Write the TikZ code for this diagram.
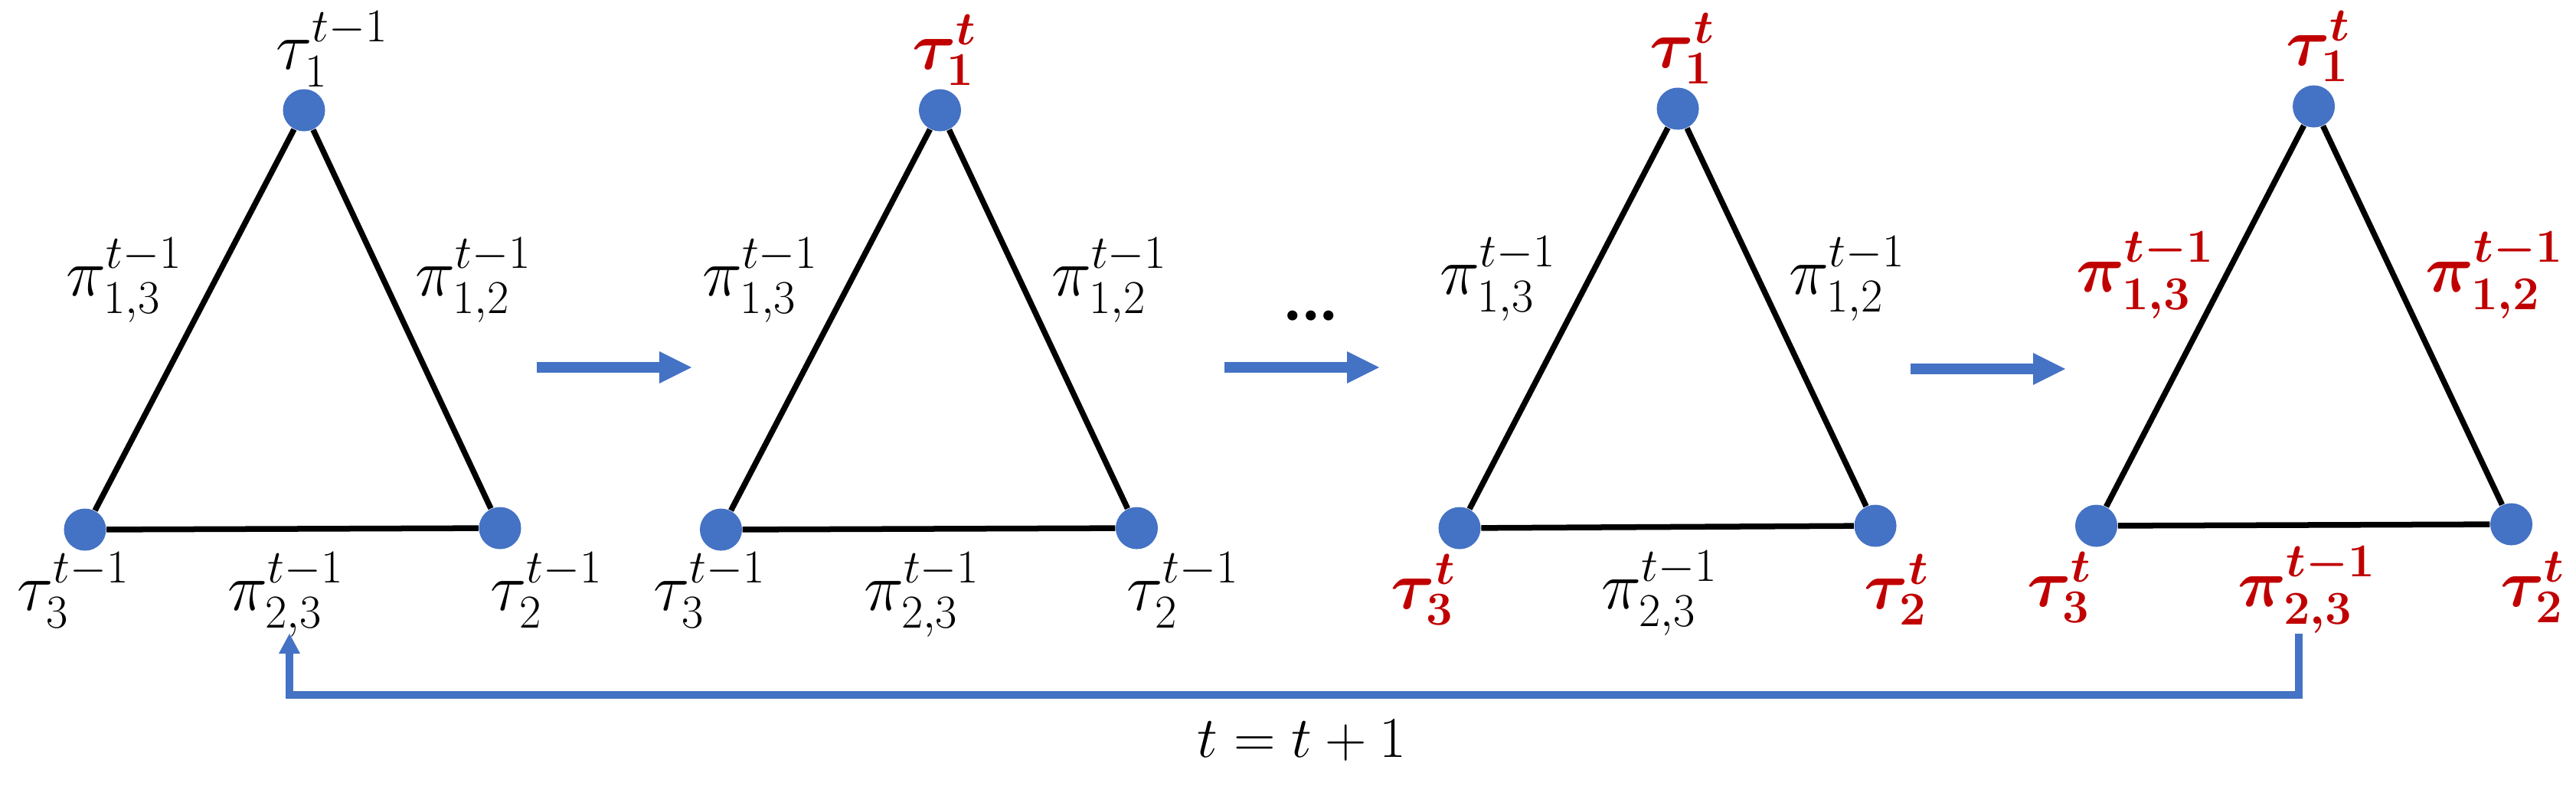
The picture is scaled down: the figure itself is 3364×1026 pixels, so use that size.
\RequirePackage{fix-cm}
\documentclass[tikz,border=0pt]{standalone}
\usepackage{amsmath}
\usepackage{bm}
\usepackage{fontspec}
\newfontfamily\dotfont{Carlito}
\usetikzlibrary{arrows.meta}
\definecolor{nodeblue}{HTML}{4472C4}
\definecolor{newred}{HTML}{C00000}
\begin{document}
\begin{tikzpicture}[x=0.01cm,y=-0.01cm,
  vert/.style={circle,fill=nodeblue,minimum size=0.55cm,inner sep=0pt},
  edge/.style={line width=0.075cm,draw=black},
  lbl/.style={font=\fontsize{25}{30}\selectfont,inner sep=0pt,anchor=base west},
  newlbl/.style={lbl,text=newred},
  flow/.style={line width=0.14cm,draw=nodeblue,-{Triangle[width=0.42cm,length=0.42cm,line width=0pt]}},
  fb/.style={line width=0.095cm,draw=nodeblue,-{Triangle[width=0.28cm,length=0.26cm,line width=0pt]}}]
\useasboundingbox (0,0) rectangle (3364,1026);

% ---------- triangle 1 ----------
\begin{scope}
  \node[vert] (a1) at (397,144) {};
  \node[vert] (a2) at (653,690) {};
  \node[vert] (a3) at (111,692) {};
  \draw[edge] (a1) -- (a2);
  \draw[edge] (a2) -- (a3);
  \draw[edge] (a3) -- (a1);
  \node[lbl] (a1l) at (360,90) {$\tau_1^{t-1}$};
  \node[lbl] (a13) at (86,386) {$\pi_{1,3}^{t-1}$};
  \node[lbl] (a12) at (542,386) {$\pi_{1,2}^{t-1}$};
  \node[lbl] (a3l) at (22,797) {$\tau_3^{t-1}$};
  \node[lbl] (a23) at (297,797) {$\pi_{2,3}^{t-1}$};
  \node[lbl] (a2l) at (640,797) {$\tau_2^{t-1}$};
\end{scope}

% ---------- triangle 2 ----------
\begin{scope}[xshift=8.30cm]
  \node[vert] (b1) at (397,144) {};
  \node[vert] (b2) at (654,690) {};
  \node[vert] (b3) at (111,692) {};
  \draw[edge] (b1) -- (b2);
  \draw[edge] (b2) -- (b3);
  \draw[edge] (b3) -- (b1);
  \node[newlbl] (b1l) at (360,90) {$\bm{\tau_1^{t}}$};
  \node[lbl] (b13) at (86,386) {$\pi_{1,3}^{t-1}$};
  \node[lbl] (b12) at (542,386) {$\pi_{1,2}^{t-1}$};
  \node[lbl] (b3l) at (22,797) {$\tau_3^{t-1}$};
  \node[lbl] (b23) at (297,797) {$\pi_{2,3}^{t-1}$};
  \node[lbl] (b2l) at (640,797) {$\tau_2^{t-1}$};
\end{scope}

% ---------- triangle 3 ----------
\begin{scope}[xshift=17.93cm,yshift=0.02cm]
  \node[vert] (c1) at (397,144) {};
  \node[vert] (c2) at (655,689) {};
  \node[vert] (c3) at (112,692) {};
  \draw[edge] (c1) -- (c2);
  \draw[edge] (c2) -- (c3);
  \draw[edge] (c3) -- (c1);
  \node[newlbl] (c1l) at (360,90) {$\bm{\tau_1^{t}}$};
  \node[lbl] (c13) at (86,386) {$\pi_{1,3}^{t-1}$};
  \node[lbl] (c12) at (542,386) {$\pi_{1,2}^{t-1}$};
  \node[newlbl] (c3l) at (22,797) {$\bm{\tau_3^{t}}$};
  \node[lbl] (c23) at (297,797) {$\pi_{2,3}^{t-1}$};
  \node[newlbl] (c2l) at (640,797) {$\bm{\tau_2^{t}}$};
\end{scope}

% ---------- triangle 4 ----------
\begin{scope}[xshift=26.23cm,yshift=0.05cm]
  \node[vert] (d1) at (397,144) {};
  \node[vert] (d2) at (655,690) {};
  \node[vert] (d3) at (113,692) {};
  \draw[edge] (d1) -- (d2);
  \draw[edge] (d2) -- (d3);
  \draw[edge] (d3) -- (d1);
  \node[newlbl] (d1l) at (360,90) {$\bm{\tau_1^{t}}$};
  \node[newlbl] (d13) at (86,386) {$\bm{\pi_{1,3}^{t-1}}$};
  \node[newlbl] (d12) at (542,386) {$\bm{\pi_{1,2}^{t-1}}$};
  \node[newlbl] (d3l) at (22,797) {$\bm{\tau_3^{t}}$};
  \node[newlbl] (d23) at (297,797) {$\bm{\pi_{2,3}^{t-1}}$};
  \node[newlbl] (d2l) at (640,797) {$\bm{\tau_2^{t}}$};
\end{scope}

% ---------- step arrows ----------
\coordinate (f1s) at (701,480);  \coordinate (f1e) at (903,480);
\coordinate (f2s) at (1599,480); \coordinate (f2e) at (1801,480);
\coordinate (f3s) at (2495,482); \coordinate (f3e) at (2697,482);
\draw[flow] (f1s) -- (f1e);
\draw[flow] (f2s) -- (f2e);
\draw[flow] (f3s) -- (f3e);

\node[anchor=base west,inner sep=0pt,font=\dotfont\bfseries\fontsize{25}{30}\selectfont] (dots) at (1676,418) {...};

% ---------- feedback loop ----------
\coordinate (fbs) at (3002,828);
\coordinate (fbe) at (378,828);
\draw[fb] (fbs) -- (3002,908) -| (fbe);
\node[anchor=base,inner sep=0pt,font=\fontsize{21.5}{26}\selectfont] (tlab) at (1700,989) {$t=t+1$};
\end{tikzpicture}
\end{document}
